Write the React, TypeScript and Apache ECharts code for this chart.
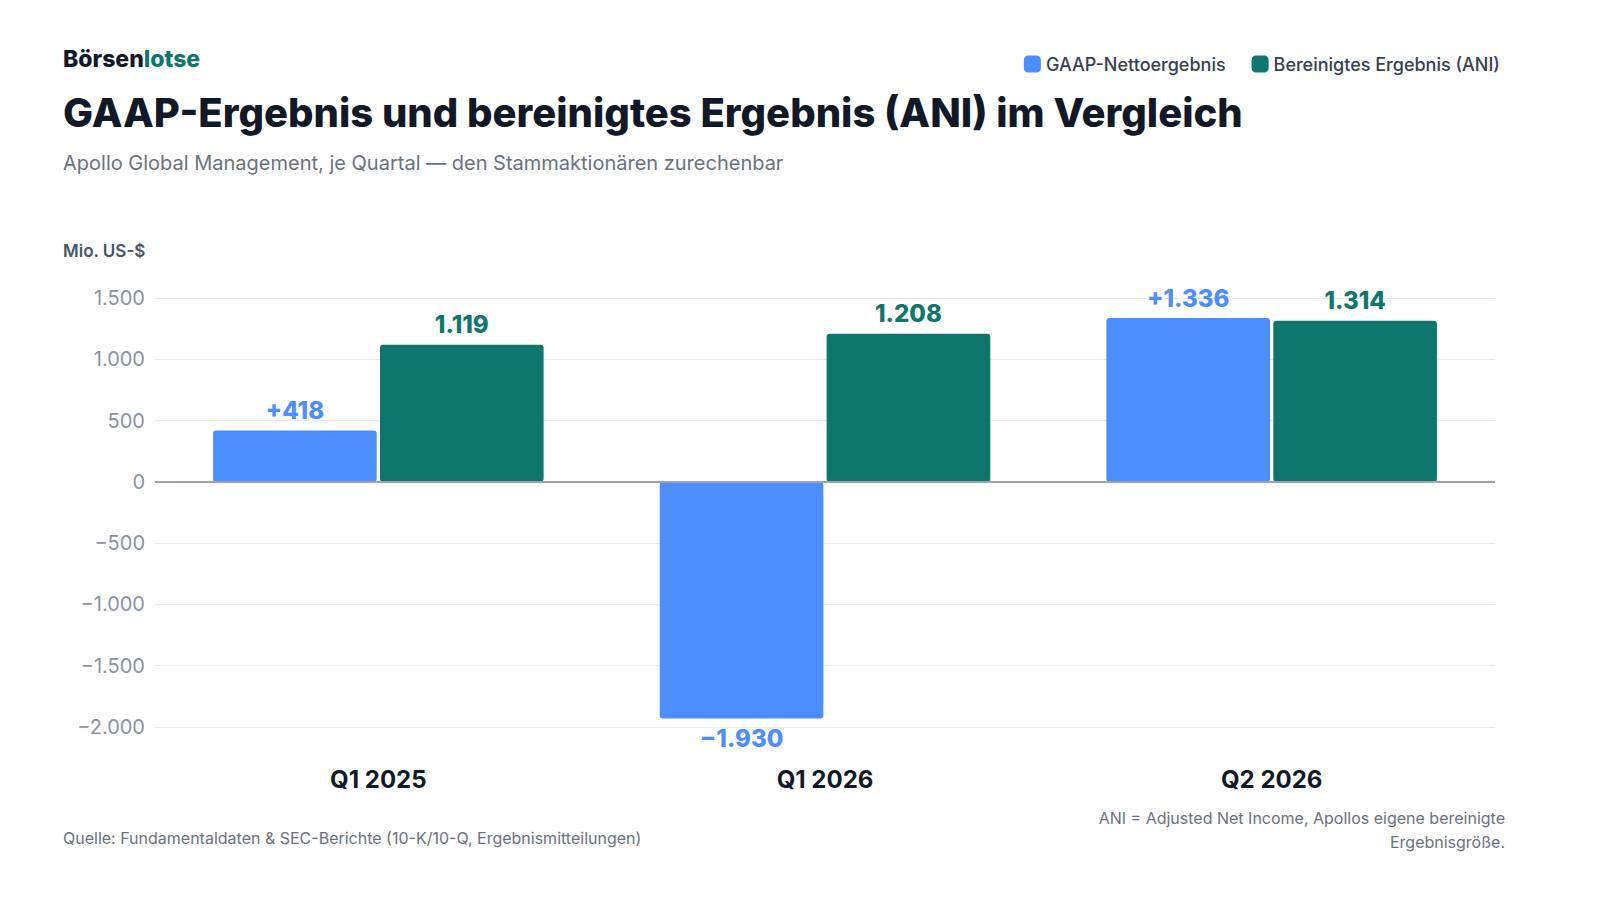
import * as echarts from "echarts";
import { useEffect, useRef } from "react";

const categories = ["Q1 2025", "Q1 2026", "Q2 2026"];
const gaapValues = [418, -1930, 1336];
const aniValues = [1119, 1208, 1314];
const seriesNames = ["GAAP-Nettoergebnis", "Bereinigtes Ergebnis (ANI)"];

const BLUE = "#4c8dff";
const GREEN = "#0f766e";
const DARK = "#111827";
const GRAY = "#6b7280";
const FONT = "Inter";

const fmt = (v: number) => {
  const s = Math.abs(v).toString().replace(/\B(?=(\d{3})+(?!\d))/g, ".");
  return v < 0 ? "\u2212" + s : s;
};

export default function App() {
  const ref = useRef<HTMLDivElement>(null);

  useEffect(() => {
    if (!ref.current) return;
    const chart = echarts.init(ref.current, null, { renderer: "svg" });
    chart.setOption({
      animation: false,
      backgroundColor: "#ffffff",
      textStyle: { fontFamily: FONT },
      grid: { left: 155, right: 105, top: 298, bottom: 173 },
      legend: {
        right: 95,
        top: 50,
        icon: "roundRect",
        itemWidth: 17,
        itemHeight: 17,
        itemGap: 26,
        textStyle: { fontSize: 18, color: "#374151", fontWeight: 500, fontFamily: FONT },
        data: seriesNames,
      },
      graphic: [
        {
          type: "text",
          left: 63,
          top: 47,
          style: {
            text: "{a|Börsen}{b|lotse}",
            rich: {
              a: { fontSize: 23, fontWeight: 800, fill: DARK, fontFamily: FONT },
              b: { fontSize: 23, fontWeight: 800, fill: GREEN, fontFamily: FONT },
            },
          },
        },
        {
          type: "text",
          left: 63,
          top: 92,
          style: {
            text: "GAAP-Ergebnis und bereinigtes Ergebnis (ANI) im Vergleich",
            fontSize: 40,
            fontWeight: 800,
            fill: DARK,
            fontFamily: FONT,
          },
        },
        {
          type: "text",
          left: 63,
          top: 153,
          style: {
            text: "Apollo Global Management, je Quartal — den Stammaktionären zurechenbar",
            fontSize: 20,
            fill: GRAY,
            fontFamily: FONT,
          },
        },
        {
          type: "text",
          left: 63,
          top: 242,
          style: { text: "Mio. US-$", fontSize: 17, fontWeight: 600, fill: "#4b5563", fontFamily: FONT },
        },
        {
          type: "text",
          left: 63,
          top: 830,
          style: {
            text: "Quelle: Fundamentaldaten & SEC-Berichte (10-K/10-Q, Ergebnismitteilungen)",
            fontSize: 16,
            fill: GRAY,
            fontFamily: FONT,
          },
        },
        {
          type: "text",
          x: 1505,
          y: 806,
          style: {
            text: "ANI = Adjusted Net Income, Apollos eigene bereinigte\nErgebnisgröße.",
            fontSize: 16,
            lineHeight: 24,
            align: "right",
            fill: GRAY,
            fontFamily: FONT,
          },
        },
      ],
      xAxis: {
        type: "category",
        data: categories,
        axisLine: { show: false },
        axisTick: { show: false },
        axisLabel: {
          fontSize: 24,
          fontWeight: 700,
          color: DARK,
          fontFamily: FONT,
          margin: 0,
        },
        position: "bottom",
        offset: 40,
      },
      yAxis: {
        type: "value",
        min: -2000,
        max: 1500,
        interval: 500,
        axisLabel: {
          fontSize: 20,
          color: "#8b93a3",
          margin: 10,
          fontFamily: FONT,
          formatter: (v: number) => fmt(v),
        },
        splitLine: { lineStyle: { color: "#e8eaee", width: 1 } },
      },
      series: [
        {
          name: seriesNames[0],
          type: "bar",
          data: gaapValues.map((v) => ({
            value: v,
            label: { position: v < 0 ? "bottom" : "top" },
          })),
          itemStyle: { color: BLUE, borderRadius: 3 },
          barGap: "2%",
          barCategoryGap: "26%",
          label: {
            show: true,
            fontSize: 24,
            fontWeight: 800,
            color: BLUE,
            fontFamily: FONT,
            distance: 8,
            formatter: (p: any) => (p.value > 0 ? "+" : "") + fmt(p.value),
          },
        },
        {
          name: seriesNames[1],
          type: "bar",
          data: aniValues,
          itemStyle: { color: GREEN, borderRadius: 3 },
          label: {
            show: true,
            position: "top",
            fontSize: 24,
            fontWeight: 800,
            color: GREEN,
            fontFamily: FONT,
            distance: 8,
            formatter: (p: any) => fmt(p.value),
          },
          markLine: {
            silent: true,
            symbol: "none",
            label: { show: false },
            lineStyle: { color: "#9ca3af", width: 2, type: "solid" },
            data: [{ yAxis: 0 }],
          },
        },
      ],
    });
    return () => chart.dispose();
  }, []);

  return (
    <div
      ref={ref}
      style={{ position: "fixed", left: 0, top: 0, width: 1600, height: 900 }}
    />
  );
}
